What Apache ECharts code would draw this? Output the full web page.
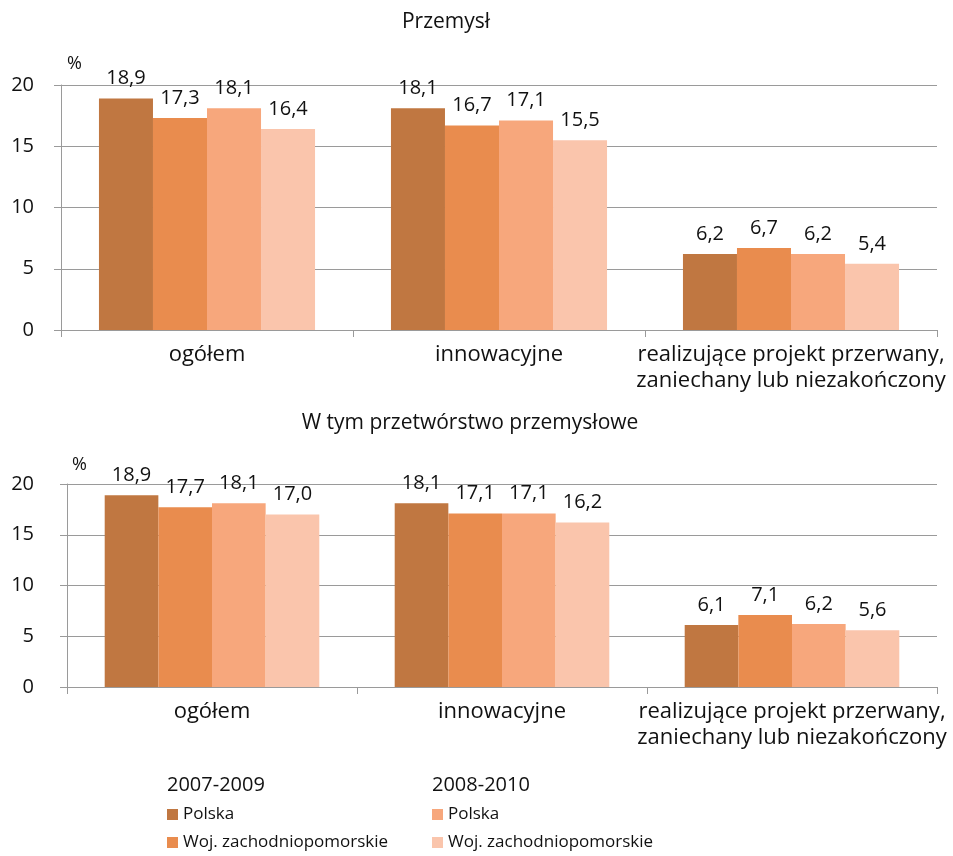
<!DOCTYPE html>
<html>
<head>
<meta charset="utf-8">
<script src="https://cdn.jsdelivr.net/npm/echarts@6/dist/echarts.min.js"></script>
<style>
  html, body { margin: 0; padding: 0; background: #ffffff; }
  #chart { width: 953px; height: 856px; }
</style>
</head>
<body>
<div id="chart"></div>
<script>
// Categories shared by both panels
const categories = ['ogółem', 'innowacyjne', 'realizujące projekt przerwany,\nzaniechany lub niezakończony'];

// Panel titles
const titleTop = 'Przemysł';
const titleBottom = 'W tym przetwórstwo przemysłowe';

// Period headers and series labels in the legend
const periods = ['2007-2009', '2008-2010'];
const seriesLabels = ['Polska', 'Woj. zachodniopomorskie', 'Polska', 'Woj. zachodniopomorskie'];
const seriesKeys = ['pl0709', 'zp0709', 'pl0810', 'zp0810'];

// Przemysł (%)
const topPolska0709 = [18.9, 18.1, 6.2];
const topZach0709   = [17.3, 16.7, 6.7];
const topPolska0810 = [18.1, 17.1, 6.2];
const topZach0810   = [16.4, 15.5, 5.4];

// Przetwórstwo przemysłowe (%)
const botPolska0709 = [18.9, 18.1, 6.1];
const botZach0709   = [17.7, 17.1, 7.1];
const botPolska0810 = [18.1, 17.1, 6.2];
const botZach0810   = [17.0, 16.2, 5.6];

// Y axis ticks
const yMin = 0, yMax = 20, yStep = 5;

const colors = ['#C07741', '#E98C4E', '#F7A77C', '#FAC5AC'];
const FONT = '"Open Sans"';
const FS_NUM = 20;     // value labels, y axis
const FS_CAT = 22;     // category labels
const FS_TITLE = 21;   // panel titles
const FS_LEG = 17;     // legend entries
const axisGray = '#9a9a9a';

const topData = [topPolska0709, topZach0709, topPolska0810, topZach0810];
const botData = [botPolska0709, botZach0709, botPolska0810, botZach0810];

function makeSeries(dataSets, gridIdx) {
  return dataSets.map((d, i) => ({
    name: seriesKeys[i],
    type: 'bar',
    xAxisIndex: gridIdx,
    yAxisIndex: gridIdx,
    data: d,
    barGap: '0%',
    barCategoryGap: '26%',
    itemStyle: { color: colors[i] },
    label: {
      show: true,
      position: 'top',
      distance: 10,
      fontFamily: FONT,
      fontSize: FS_NUM,
      color: '#111',
      formatter: p => p.value.toFixed(1).replace('.', ',')
    }
  }));
}

function xAxisDef(gridIdx) {
  return {
    type: 'category',
    gridIndex: gridIdx,
    data: categories,
    axisLine: { lineStyle: { color: axisGray, width: 1 } },
    axisTick: { show: true, length: 7, lineStyle: { color: axisGray } },
    axisLabel: { fontFamily: FONT, fontSize: FS_CAT, color: '#111', margin: 12, lineHeight: 26, interval: 0 }
  };
}

function yAxisDef(gridIdx, labelMargin) {
  return {
    type: 'value',
    gridIndex: gridIdx,
    min: yMin, max: yMax, interval: yStep,
    axisLine: { show: true, lineStyle: { color: axisGray } },
    axisTick: { show: true, length: 7, lineStyle: { color: axisGray } },
    splitLine: { lineStyle: { color: axisGray, width: 1 } },
    axisLabel: { fontFamily: FONT, fontSize: FS_NUM, color: '#111', margin: labelMargin }
  };
}

// One legend per entry so each can sit exactly in its column/row
function legendItem(key, left, top) {
  return {
    left: left,
    top: top,
    itemWidth: 11,
    itemHeight: 11,
    icon: 'rect',
    data: [key],
    formatter: name => seriesLabels[seriesKeys.indexOf(name)],
    textStyle: { fontFamily: FONT, fontSize: FS_LEG, color: '#111' }
  };
}

const chart = echarts.init(document.getElementById('chart'), null, { renderer: 'canvas' });

chart.setOption({
  animation: false,
  backgroundColor: '#ffffff',
  grid: [
    { left: 61, right: 16, top: 85, height: 245 },
    { left: 67, right: 16, top: 484, height: 203 }
  ],
  xAxis: [xAxisDef(0), xAxisDef(1)],
  yAxis: [yAxisDef(0, 27), yAxisDef(1, 33)],
  legend: [
    legendItem(seriesKeys[0], 162, 801),
    legendItem(seriesKeys[1], 162, 829),
    legendItem(seriesKeys[2], 427, 801),
    legendItem(seriesKeys[3], 427, 829)
  ],
  graphic: [
    { type: 'text', x: 446, y: 22, style: { text: titleTop, font: `${FS_TITLE}px ${FONT}`, fill: '#111', align: 'center', verticalAlign: 'middle' } },
    { type: 'text', x: 470, y: 423, style: { text: titleBottom, font: `${FS_TITLE}px ${FONT}`, fill: '#111', align: 'center', verticalAlign: 'middle' } },
    { type: 'text', x: 67, y: 64, style: { text: '%', font: `18px ${FONT}`, fill: '#111', verticalAlign: 'middle' } },
    { type: 'text', x: 72, y: 465, style: { text: '%', font: `18px ${FONT}`, fill: '#111', verticalAlign: 'middle' } },
    { type: 'text', x: 167, y: 785, style: { text: periods[0], font: `${FS_NUM}px ${FONT}`, fill: '#111', verticalAlign: 'middle' } },
    { type: 'text', x: 432, y: 785, style: { text: periods[1], font: `${FS_NUM}px ${FONT}`, fill: '#111', verticalAlign: 'middle' } }
  ],
  series: makeSeries(topData, 0).concat(makeSeries(botData, 1))
});
</script>
</body>
</html>
